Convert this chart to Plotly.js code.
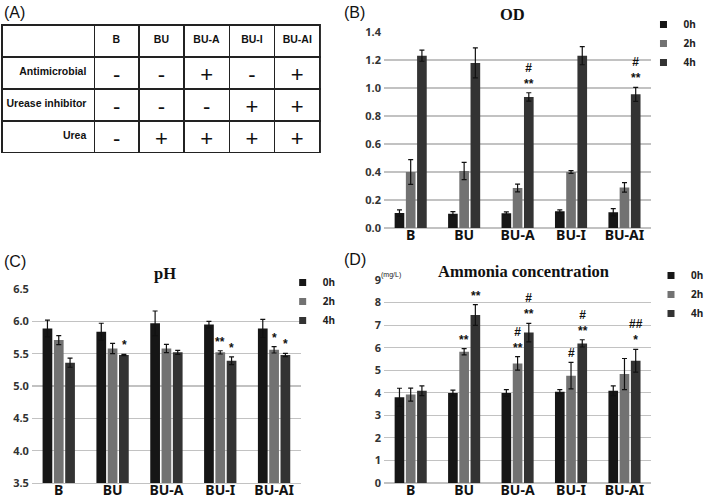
<!DOCTYPE html>
<html>
<head>
<meta charset="utf-8">
<script src="https://cdn.plot.ly/plotly-3.0.1.min.js"></script>
<style>html,body{margin:0;padding:0;background:#fff;}#chart{width:709px;height:498px;}</style>
</head>
<body>
<div id="chart"></div>
<script>
// ---------- data ----------
const categories = ['B', 'BU', 'BU-A', 'BU-I', 'BU-AI'];
const timeLabels = ['0h', '2h', '4h'];

// (A) table
const rowLabels = ['Antimicrobial', 'Urease inhibitor', 'Urea'];
const antimicrobial   = ['-', '-', '+', '-', '+'];
const ureaseInhibitor = ['-', '-', '-', '+', '+'];
const urea            = ['-', '+', '+', '+', '+'];

// (B) OD
const od0h = [0.107, 0.102, 0.105, 0.119, 0.112];
const od0hErr = [0.022, 0.015, 0.010, 0.010, 0.026];
const od2h = [0.400, 0.407, 0.286, 0.400, 0.290];
const od2hErr = [0.088, 0.062, 0.028, 0.010, 0.034];
const od4h = [1.231, 1.179, 0.936, 1.231, 0.955];
const od4hErr = [0.040, 0.107, 0.030, 0.065, 0.050];
const odSig0h = ['', '', '', '', ''];
const odSig2h = ['', '', '', '', ''];
const odSig4h = ['', '', '#<br>**', '', '#<br>**'];

// (C) pH
const ph0h = [5.89, 5.84, 5.97, 5.95, 5.89];
const ph0hErr = [0.13, 0.13, 0.19, 0.05, 0.14];
const ph2h = [5.71, 5.58, 5.58, 5.52, 5.56];
const ph2hErr = [0.07, 0.08, 0.065, 0.025, 0.05];
const ph4h = [5.36, 5.48, 5.52, 5.39, 5.48];
const ph4hErr = [0.07, 0.01, 0.03, 0.06, 0.025];
const phSig0h = ['', '', '', '', ''];
const phSig2h = ['', '', '', '**', '*'];
const phSig4h = ['', '*', '', '*', '*'];

// (D) Ammonia concentration (mg/L)
const nh0h = [3.80, 3.99, 3.99, 4.05, 4.09];
const nh0hErr = [0.40, 0.13, 0.15, 0.09, 0.22];
const nh2h = [3.92, 5.82, 5.30, 4.76, 4.83];
const nh2hErr = [0.29, 0.14, 0.30, 0.59, 0.69];
const nh4h = [4.09, 7.45, 6.67, 6.19, 5.42];
const nh4hErr = [0.22, 0.46, 0.41, 0.16, 0.50];
const nhSig0h = ['', '', '', '', ''];
const nhSig2h = ['', '**', '#<br>**', '#', ''];
const nhSig4h = ['', '**', '#<br>**', '#<br>**', '##<br>*'];

// ---------- styling ----------
const W = 709, H = 498;
const px = v => v / W;
const py = v => 1 - v / H;
const colors = ['#161616', '#727272', '#333333'];
const gridColor = '#c2c2c2';
const BARGAP = 0.37, BARGROUPGAP = 0.14;

const panels = [
  {xa: 'x', ya: 'y', vals: [od0h, od2h, od4h], errs: [od0hErr, od2hErr, od4hErr],
   sig: [odSig0h, odSig2h, odSig4h], legend: 'legend', x0: 398, x1: 675, y0: 32, y1: 228},
  {xa: 'x2', ya: 'y2', vals: [ph0h, ph2h, ph4h], errs: [ph0hErr, ph2hErr, ph4hErr],
   sig: [phSig0h, phSig2h, phSig4h], legend: 'legend2', x0: 33, x1: 312, y0: 289, y1: 483},
  {xa: 'x3', ya: 'y3', vals: [nh0h, nh2h, nh4h], errs: [nh0hErr, nh2hErr, nh4hErr],
   sig: [nhSig0h, nhSig2h, nhSig4h], legend: 'legend3', x0: 398, x1: 675, y0: 280, y1: 483}
];

const traces = [];
const annotations = [];

// table (A)
const tableColumns = [rowLabels.map(s => '<b>' + s.replace(/ /g, '\u00a0') + '</b>')];
categories.forEach((c, j) => tableColumns.push([antimicrobial[j], ureaseInhibitor[j], urea[j]]));
traces.push({
  type: 'table',
  domain: {x: [px(2), px(332)], y: [py(153), py(25)]},
  columnwidth: [96, 46, 47, 47, 47, 47],
  header: {
    values: [''].concat(categories.map(c => '<b>' + c + '</b>')),
    align: 'center', height: 32,
    line: {color: '#222', width: 1.5}, fill: {color: '#fff'},
    font: {family: 'Liberation Sans, Arial', size: 10.5, color: '#111'}
  },
  cells: {
    values: tableColumns,
    align: ['right', 'center', 'center', 'center', 'center', 'center'],
    height: 32,
    line: {color: '#222', width: 1.5}, fill: {color: '#fff'},
    font: {family: 'Liberation Sans, Arial', size: [10.5, 22, 22, 22, 22, 22], color: '#111'}
  }
});

panels.forEach(p => {
  timeLabels.forEach((t, i) => {
    traces.push({
      type: 'bar', x: categories, y: p.vals[i], name: t,
      xaxis: p.xa, yaxis: p.ya, showlegend: false,
      marker: {color: colors[i], line: {width: 0}},
      error_y: {type: 'data', array: p.errs[i], visible: true, color: '#111', thickness: 1.2, width: 2.5}
    });
    // legend entry (small square like the reference)
    traces.push({
      type: 'scatter', mode: 'markers', x: [null], y: [null], name: t,
      xaxis: p.xa, yaxis: p.ya, legend: p.legend, showlegend: true,
      marker: {symbol: 'square', size: 7, color: colors[i]}
    });
    // significance marks
    const catW = (p.x1 - p.x0) / categories.length;
    const slot = catW * (1 - BARGAP) / timeLabels.length;
    categories.forEach((c, j) => {
      const s = p.sig[i][j];
      if (!s) return;
      annotations.push({
        xref: p.xa, yref: p.ya, x: c, y: p.vals[i][j] + p.errs[i][j],
        xshift: (i - 1) * slot, yshift: 0, yanchor: 'bottom', showarrow: false,
        text: '<b>' + s + '</b>',
        font: {family: 'Liberation Sans, Arial', size: 12, color: '#111'}
      });
    });
  });
});

// titles & panel labels
const titleFont = {family: 'Liberation Serif, DejaVu Serif, serif', size: 16.5, color: '#111', weight: 'bold'};
const labelFont = {family: 'Liberation Sans, Arial', size: 16, color: '#111'};
[
  {text: 'OD', x: 531, y: 14, font: titleFont},
  {text: 'pH', x: 171, y: 273, font: titleFont},
  {text: 'Ammonia concentration', x: 543, y: 271, font: titleFont},
].forEach(a => annotations.push({xref: 'paper', yref: 'paper', x: px(a.x), y: py(a.y),
  xanchor: 'center', yanchor: 'middle', text: '<b>' + a.text + '</b>', showarrow: false, font: a.font}));
[
  {text: '(A)', x: 2, y: 13}, {text: '(B)', x: 355, y: 13},
  {text: '(C)', x: 2, y: 261}, {text: '(D)', x: 355, y: 259}
].forEach(a => annotations.push({xref: 'paper', yref: 'paper', x: px(a.x), y: py(a.y),
  xanchor: 'left', yanchor: 'middle', text: a.text, showarrow: false, font: labelFont}));
annotations.push({xref: 'paper', yref: 'paper', x: px(393), y: py(275), xanchor: 'left', yanchor: 'middle',
  text: '(mg/L)', showarrow: false, font: {family: 'Liberation Sans, Arial', size: 7, color: '#222'}});

const tickFont = {family: 'Noto Sans, Liberation Sans', size: 11, color: '#333', weight: 'bold'};
const catFont = {family: 'Noto Sans, Liberation Sans', size: 14, color: '#111', weight: 'bold'};

function xax(p) {
  return {domain: [px(p.x0), px(p.x1)], anchor: p.ya, type: 'category',
    showgrid: false, showline: true, linecolor: gridColor, linewidth: 1.2, ticks: '',
    tickfont: catFont, ticklabelstandoff: -6, fixedrange: true};
}
function yax(p, range, dtick, fmt) {
  return {domain: [py(p.y1), py(p.y0)], anchor: p.xa, range: range, dtick: dtick, tick0: range[0],
    tickformat: fmt, showgrid: true, gridcolor: gridColor, gridwidth: 1.2,
    zeroline: true, zerolinecolor: gridColor, zerolinewidth: 1.2,
    showline: false, ticks: '', tickfont: tickFont, ticklabelstandoff: 2};
}

const legendBase = {bgcolor: 'rgba(0,0,0,0)', font: {family: 'Noto Sans, Liberation Sans', size: 10, color: '#222', weight: 'bold'},
  xanchor: 'left', yanchor: 'top', itemwidth: 30, tracegroupgap: 0};

const layout = {
  width: W, height: H, margin: {l: 0, r: 0, t: 0, b: 0},
  paper_bgcolor: '#fff', plot_bgcolor: 'rgba(0,0,0,0)',
  barmode: 'group', bargap: BARGAP, bargroupgap: BARGROUPGAP,
  showlegend: true,
  xaxis: xax(panels[0]), yaxis: yax(panels[0], [0, 1.4], 0.2, '.1f'),
  xaxis2: xax(panels[1]), yaxis2: yax(panels[1], [3.5, 6.5], 0.5, '.1f'),
  xaxis3: xax(panels[2]), yaxis3: yax(panels[2], [0, 9], 1, 'd'),
  legend: Object.assign({}, legendBase, {x: px(667), y: py(10)}),
  legend2: Object.assign({}, legendBase, {x: px(293), y: py(268)}),
  legend3: Object.assign({}, legendBase, {x: px(675), y: py(261)}),
  annotations: annotations
};

Plotly.newPlot('chart', traces, layout, {displayModeBar: false, staticPlot: true});
</script>
</body>
</html>
